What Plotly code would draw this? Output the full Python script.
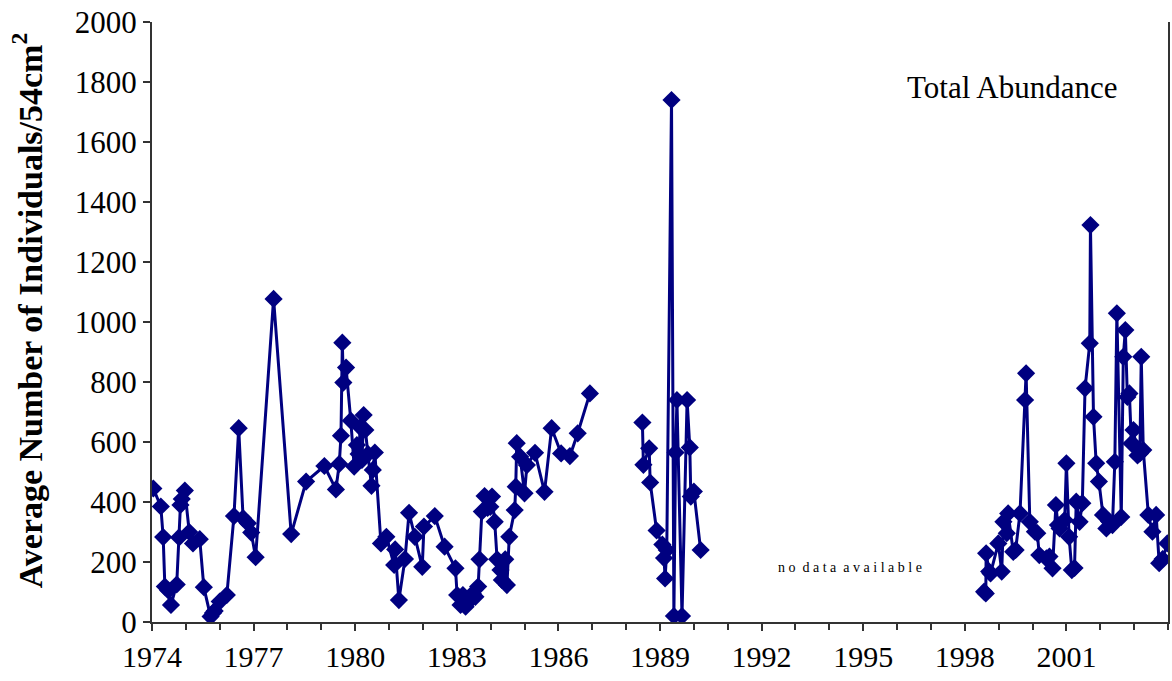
import plotly.graph_objects as go

# Segment 1: 1974-1987
years_a = [1974.04, 1974.26, 1974.33, 1974.38, 1974.48, 1974.56, 1974.73, 1974.80, 1974.84, 1974.88,
           1974.97, 1975.10, 1975.21, 1975.41, 1975.53, 1975.73, 1975.80, 1975.85, 1976.00, 1976.21,
           1976.42, 1976.56, 1976.69, 1976.83, 1976.93, 1977.06, 1977.59, 1978.11, 1978.55, 1979.09,
           1979.43, 1979.53, 1979.58, 1979.62, 1979.65, 1979.73, 1979.87, 1979.97, 1980.05, 1980.10,
           1980.15, 1980.20, 1980.25, 1980.30, 1980.38, 1980.48, 1980.52, 1980.58, 1980.76, 1980.92,
           1981.15, 1981.18, 1981.29, 1981.47, 1981.59, 1981.76, 1981.98, 1982.03, 1982.35, 1982.64,
           1982.96, 1983.01, 1983.11, 1983.18, 1983.26, 1983.40, 1983.47, 1983.55, 1983.63, 1983.67,
           1983.74, 1983.82, 1983.91, 1983.99, 1984.04, 1984.12, 1984.19, 1984.29, 1984.33, 1984.43,
           1984.48, 1984.55, 1984.71, 1984.74, 1984.77, 1984.87, 1985.00, 1985.07, 1985.31, 1985.59,
           1985.80, 1986.08, 1986.34, 1986.57, 1986.93]
abund_a = [445, 385, 283, 118, 105, 57, 125, 282, 390, 410,
           438, 300, 262, 276, 116, 18, 30, 37, 68, 90,
           353, 646, 346, 329, 298, 216, 1077, 293, 468, 520,
           442, 527, 621, 931, 798, 848, 671, 518, 590, 560,
           649, 540, 690, 640, 560, 454, 507, 565, 262, 284,
           190, 242, 73, 210, 364, 284, 184, 318, 353, 251,
           179, 90, 57, 90, 51, 73, 95, 84, 118, 209,
           368, 420, 380, 384, 418, 334, 209, 173, 140, 209,
           123, 284, 373, 451, 596, 551, 429, 523, 564, 434,
           646, 562, 553, 629, 762]

# Segment 2: 1988-1990
years_b = [1988.48, 1988.51, 1988.68, 1988.71, 1988.90, 1989.07, 1989.12, 1989.15, 1989.20, 1989.34,
           1989.41, 1989.46, 1989.50, 1989.65, 1989.80, 1989.88, 1989.91, 1990.00, 1990.20]
abund_b = [665, 524, 579, 465, 305, 258, 213, 145, 240, 1740,
           20, 565, 740, 20, 740, 582, 418, 435, 240]

# Segment 3: 1998-2004
years_c = [1998.57, 1998.62, 1998.63, 1998.72, 1998.76, 1998.99, 1999.09, 1999.14, 1999.24, 1999.28,
           1999.43, 1999.50, 1999.63, 1999.78, 1999.81, 1999.92, 2000.07, 2000.14, 2000.20, 2000.41,
           2000.50, 2000.59, 2000.69, 2000.75, 2000.80, 2000.95, 2001.00, 2001.08, 2001.16, 2001.24,
           2001.29, 2001.39, 2001.47, 2001.55, 2001.69, 2001.71, 2001.80, 2001.88, 2001.96, 2002.08,
           2002.18, 2002.26, 2002.36, 2002.43, 2002.49, 2002.62, 2002.68, 2002.74, 2002.80, 2002.86,
           2002.92, 2002.98, 2003.05, 2003.10, 2003.17, 2003.21, 2003.27, 2003.42, 2003.54, 2003.65,
           2003.74, 2003.84, 2003.98]
abund_c = [101, 95, 229, 168, 162, 262, 168, 334, 296, 362,
           234, 240, 362, 740, 829, 334, 301, 296, 223, 212,
           218, 179, 390, 323, 312, 340, 529, 284, 173, 180,
           401, 334, 396, 779, 929, 1323, 684, 529, 468, 357,
           312, 335, 323, 534, 1029, 350, 884, 973, 750, 762,
           595, 640, 584, 555, 562, 884, 573, 357, 301, 357,
           196, 210, 262]

ytick_vals = [0, 200, 400, 600, 800, 1000, 1200, 1400, 1600, 1800, 2000]
xtick_vals = [1974, 1977, 1980, 1983, 1986, 1989, 1992, 1995, 1998, 2001]
xtick_text = [str(v) for v in xtick_vals]

x_all = years_a + [None] + years_b + [None] + years_c
y_all = abund_a + [None] + abund_b + [None] + abund_c

navy = "#000080"
serif = "Liberation Serif, Times New Roman, serif"

fig = go.Figure()
fig.add_trace(go.Scatter(
    x=x_all, y=y_all, mode="lines+markers",
    line=dict(color=navy, width=3),
    marker=dict(symbol="diamond", size=14, color=navy),
    connectgaps=False, showlegend=False,
))

fig.update_layout(
    width=1172, height=681,
    margin=dict(l=152, r=2, t=22, b=59),
    paper_bgcolor="white", plot_bgcolor="white",
    font=dict(family=serif, color="black", size=30),
    xaxis=dict(
        range=[1974, 2004], tickvals=xtick_vals, ticktext=xtick_text,
        ticks="outside", ticklen=7, tickwidth=1.5, tickcolor="#333",
        showline=True, linecolor="#333", linewidth=2,
        showgrid=False, zeroline=False,
        minor=dict(dtick=1, tick0=1974, ticks="outside", ticklen=6, tickwidth=1.5,
                   tickcolor="#333", showgrid=False),
        tickfont=dict(family=serif, size=30),
    ),
    yaxis=dict(
        range=[0, 2000], tickvals=ytick_vals,
        ticks="outside", ticklen=7, tickwidth=1.5, tickcolor="#333",
        showline=True, linecolor="#333", linewidth=2, mirror=True,
        showgrid=False, zeroline=False,
        tickfont=dict(family=serif, size=31),
    ),
    annotations=[
        dict(text="<b>Average Number of Individuals/54cm<sup>2</sup></b>",
             xref="paper", yref="paper", x=(27 - 152) / 1018, y=(622 - 310) / 600,
             xanchor="center", yanchor="middle", textangle=-90, showarrow=False,
             font=dict(family=serif, size=34, color="black")),
        dict(text="Total Abundance", xref="paper", yref="paper",
             x=(1014 - 152) / 1018, y=(622 - 88) / 600, xanchor="center", yanchor="middle",
             showarrow=False, font=dict(family=serif, size=31, color="black")),
        dict(text="n o  d a t a  a v a i l a b l e", xref="x", yref="y",
             x=1994.6, y=183, xanchor="center", yanchor="middle",
             showarrow=False, font=dict(family=serif, size=14, color="black")),
    ],
)

fig.write_html("out.html", config={"displayModeBar": False},
               post_script="document.body.style.margin='0px';")
